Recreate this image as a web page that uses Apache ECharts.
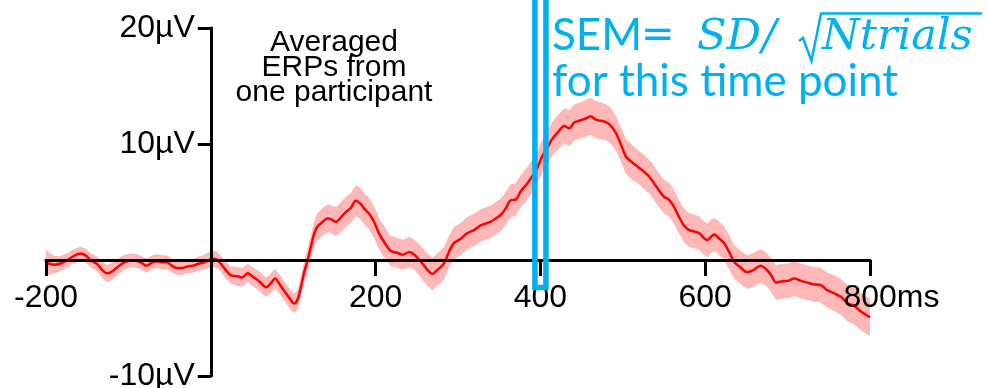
<!DOCTYPE html>
<html>
<head>
<meta charset="utf-8">
<script src="https://cdn.jsdelivr.net/npm/echarts@6/dist/echarts.min.js"></script>
<style>
  html, body { margin: 0; padding: 0; background: #ffffff; }
  #chart { width: 988px; height: 388px; }
</style>
</head>
<body>
<div id="chart"></div>
<script>
// Time points of the averaged ERP (ms relative to stimulus onset)
const timesMs = [
  -200, -195, -190, -182, -174, -166, -158, -152, -146, -138, -132, -126, -120, -113, -105, -97,
  -89, -83, -78, -71, -65, -59, -53, -47, -41, -35, -28, -22, -16, -8, 0,
  5, 10, 18, 24, 32, 38, 45, 51, 59, 67, 73, 78, 84, 91, 97, 101, 105, 109, 113, 117, 121,
  125, 129, 136, 142, 146, 152, 158, 164, 170, 176, 181, 186, 192, 198, 204, 210,
  218, 227, 233, 241, 247, 255, 263, 269, 275, 283, 289, 295, 303,
  311, 320, 328, 334, 340, 346, 352, 358, 364, 370, 376, 384, 390, 396, 402, 409,
  414, 421, 429, 435, 441, 449, 455, 461, 467, 473, 479, 485, 492, 498, 504, 510,
  518, 526, 532, 538, 544, 550, 556, 562, 568, 574, 580, 587, 593, 599, 603, 607, 611, 617,
  623, 629, 635, 643, 651, 659, 667, 674, 680, 686, 692, 700, 708, 716, 724, 732, 740, 748,
  756, 765, 773, 781, 789, 800
];

// Mean amplitude across trials (µV)
const erpUv = [
  -0.2, -0.35, -0.4, -0.3, 0.0, 0.35, 0.55, 0.4, 0.0, -0.35, -0.85, -1.15, -1.0, -0.6, -0.2, -0.05,
  -0.1, -0.3, -0.5, -0.2, -0.1, -0.2, -0.2, -0.5, -0.7, -0.7, -0.55, -0.5, -0.35, -0.2, 0.05,
  0.1, -0.15, -0.85, -1.3, -1.4, -1.5, -1.15, -1.45, -1.85, -2.35, -2.0, -1.6, -2.15, -2.85, -3.45, -3.75, -3.45, -2.45, -1.15, -0.15, 1.0,
  2.15, 2.85, 3.3, 3.6, 3.5, 3.3, 3.7, 4.15, 4.5, 5.1, 4.9, 4.45, 4.0, 3.3, 2.3, 1.6,
  0.8, 0.6, 0.45, 0.7, 0.45, -0.15, -0.85, -1.2, -0.85, -0.3, 0.7, 1.45, 1.8,
  2.3, 2.6, 3.0, 3.15, 3.3, 3.6, 3.9, 4.45, 5.15, 5.2, 5.9, 6.6, 7.2, 7.9, 8.9, 9.75,
  10.4, 11.0, 11.55, 11.35, 11.85, 12.05, 12.2, 12.4, 12.1, 12.0, 11.9, 11.6, 10.9, 9.9, 8.9, 8.5,
  8.05, 7.6, 7.2, 6.6, 6.0, 5.45, 5.2, 4.6, 3.75, 3.0, 2.6, 2.45, 2.3, 1.85, 1.7, 2.0, 2.2, 1.85,
  1.45, 0.7, -0.15, -0.65, -1.05, -0.85, -0.5, -0.8, -1.3, -1.95, -1.85, -1.8, -1.6, -1.8, -1.95, -2.1, -2.15, -2.6,
  -2.85, -3.2, -3.75, -3.95, -4.45, -4.95
];

// Standard error of the mean at each time point (µV)
const semUv = [
  1.1, 0.9, 0.75, 0.65, 0.6, 0.6, 0.6, 0.6, 0.6, 0.65, 0.7, 0.75, 0.75, 0.7, 0.65, 0.6,
  0.6, 0.6, 0.6, 0.6, 0.6, 0.6, 0.6, 0.6, 0.6, 0.6, 0.6, 0.6, 0.6, 0.65, 0.7,
  0.7, 0.7, 0.75, 0.75, 0.8, 0.8, 0.8, 0.8, 0.85, 0.85, 0.85, 0.85, 0.85, 0.85, 0.85, 0.85, 0.85, 0.9, 0.95, 1.0, 1.05,
  1.1, 1.15, 1.2, 1.2, 1.2, 1.25, 1.3, 1.3, 1.3, 1.35, 1.35, 1.35, 1.35, 1.35, 1.35, 1.35,
  1.3, 1.3, 1.3, 1.3, 1.3, 1.35, 1.4, 1.4, 1.4, 1.4, 1.4, 1.4, 1.4,
  1.4, 1.4, 1.4, 1.4, 1.4, 1.4, 1.4, 1.4, 1.4, 1.4, 1.4, 1.4, 1.4, 1.4, 1.4, 1.4,
  1.45, 1.5, 1.5, 1.55, 1.55, 1.55, 1.6, 1.6, 1.6, 1.6, 1.55, 1.55, 1.5, 1.5, 1.5, 1.5,
  1.45, 1.45, 1.45, 1.45, 1.45, 1.45, 1.45, 1.45, 1.45, 1.45, 1.45, 1.45, 1.45, 1.45, 1.45, 1.45, 1.45, 1.45,
  1.45, 1.45, 1.45, 1.45, 1.45, 1.45, 1.45, 1.45, 1.45, 1.5, 1.5, 1.5, 1.5, 1.5, 1.5, 1.5, 1.5, 1.5,
  1.55, 1.55, 1.55, 1.6, 1.6, 1.6
];

// Axis ranges, ticks and labels
const xRange = [-200, 800];
const yRange = [-10, 20];
const xTickValues = [-200, 200, 400, 600, 800];
const xUnit = 'ms';
const yTickValues = [-10, 10, 20];
const yUnit = 'µV';

// Time point whose SEM is highlighted
const semPointMs = 400;

const noteLines = ['Averaged', 'ERPs from', 'one participant'];
const semCaption = 'for this time point';

const RED = '#ff0000';
const BAND = '#ffb8b8';
const BLUE = '#00b0f0';
const AXIS_FONT = '"Liberation Sans", Arial, Helvetica, sans-serif';

const W = 988, H = 388;
const GRID = { left: 46, right: 118, top: 28, bottom: 12 };
const gridW = W - GRID.left - GRID.right;
const gridH = H - GRID.top - GRID.bottom;

// Axes cross at (0 ms, 0 µV): shift each axis in from the grid edge to the zero of the other
const yAxisShift = -gridW * (0 - xRange[0]) / (xRange[1] - xRange[0]);
const xAxisShift = -gridH * (0 - yRange[0]) / (yRange[1] - yRange[0]);

const meanPts = timesMs.map((t, i) => [t, erpUv[i]]);

const chart = echarts.init(document.getElementById('chart'), null, { renderer: 'canvas' });
const xMax = xRange[1];

chart.setOption({
  animation: false,
  backgroundColor: '#ffffff',
  grid: Object.assign({ outerBoundsMode: 'none', containLabel: false }, GRID),
  xAxis: {
    type: 'value',
    min: xRange[0], max: xRange[1], interval: 200,
    position: 'bottom',
    offset: xAxisShift,
    z: 5,
    axisLine: { onZero: false, lineStyle: { color: '#000', width: 3 } },
    axisTick: { show: true, customValues: xTickValues, length: 16, lineStyle: { color: '#000', width: 3 } },
    axisLabel: {
      customValues: xTickValues,
      margin: 22,
      color: '#000',
      fontFamily: AXIS_FONT,
      fontSize: 32,
      formatter: v => (v === xMax ? `{pad|}${v}{u|${xUnit}}` : `${v}`),
      rich: {
        pad: { width: 43, fontFamily: AXIS_FONT, fontSize: 32 },
        u: { color: '#000', fontFamily: AXIS_FONT, fontSize: 32 }
      }
    },
    splitLine: { show: false }
  },
  yAxis: {
    type: 'value',
    min: yRange[0], max: yRange[1], interval: 10,
    position: 'left',
    offset: yAxisShift,
    z: 5,
    axisLine: { show: true, onZero: false, lineStyle: { color: '#000', width: 3 } },
    axisTick: { show: true, customValues: yTickValues, length: 13, lineStyle: { color: '#000', width: 3 } },
    axisLabel: {
      customValues: yTickValues,
      margin: 16,
      color: '#000',
      fontFamily: AXIS_FONT,
      fontSize: 32,
      formatter: v => `${v}${yUnit}`
    },
    splitLine: { show: false }
  },
  series: [
    {
      // mean ± SEM drawn as one closed polygon
      name: 'SEM band',
      type: 'custom',
      data: meanPts,
      encode: { x: 0, y: 1 },
      silent: true,
      z: 1,
      renderItem: (params, api) => {
        if (params.dataIndex !== 0) return null;
        const upper = timesMs.map((t, i) => api.coord([t, erpUv[i] + semUv[i]]));
        const lower = timesMs.map((t, i) => api.coord([t, erpUv[i] - semUv[i]])).reverse();
        return {
          type: 'polygon',
          shape: { points: upper.concat(lower) },
          style: { fill: BAND, stroke: null }
        };
      }
    },
    {
      name: 'ERP',
      type: 'line',
      data: meanPts,
      smooth: 0.3,
      symbol: 'none',
      lineStyle: { color: RED, width: 2.5 },
      z: 2
    }
  ]
});

// Annotations: the highlighted time point and the SEM formula
const p = chart.convertToPixel({ gridIndex: 0 }, [semPointMs, 0]);
const mathFont = 'italic 43px "DejaVu Serif", serif';
const capFont = '44px Lato, "Open Sans", sans-serif';

chart.setOption({
  graphic: [
    {
      type: 'text', z: 10,
      style: {
        x: 334, y: 30.5,
        text: noteLines.join('\n'),
        align: 'center', verticalAlign: 'top',
        font: '30px ' + AXIS_FONT,
        lineHeight: 25,
        fill: '#000'
      }
    },
    {
      type: 'rect', z: 20,
      shape: { x: p[0] - 5.5, y: -10, width: 11, height: p[1] + 27.5 + 10 },
      style: { fill: 'none', stroke: BLUE, lineWidth: 5.5 }
    },
    { type: 'text', z: 20, style: { x: 552, y: 36, text: 'SEM', font: capFont, fill: BLUE, align: 'left', verticalAlign: 'middle' } },
    { type: 'text', z: 20, style: { x: 641, y: 37, text: '=', font: '40px "DejaVu Sans", sans-serif', fill: BLUE, align: 'left', verticalAlign: 'middle' } },
    { type: 'text', z: 20, style: { x: 697, y: 37.5, text: 'SD', font: mathFont, fill: BLUE, align: 'left', verticalAlign: 'middle' } },
    { type: 'text', z: 20, style: { x: 762, y: 37.5, text: '/', font: mathFont, fill: BLUE, align: 'left', verticalAlign: 'middle' } },
    // radical sign with its vinculum over "Ntrials"
    {
      type: 'polyline', z: 20,
      shape: { points: [[799, 41], [803, 38], [811.5, 61], [821, 13.5], [982, 13.5]] },
      style: { stroke: BLUE, lineWidth: 2.5, fill: null, lineJoin: 'miter' }
    },
    { type: 'text', z: 20, style: { x: 822, y: 37.5, text: 'Ntrials', font: mathFont, fill: BLUE, align: 'left', verticalAlign: 'middle' } },
    { type: 'text', z: 20, style: { x: 552, y: 81.5, text: semCaption, font: capFont, fill: BLUE, align: 'left', verticalAlign: 'middle' } }
  ]
});
</script>
</body>
</html>
